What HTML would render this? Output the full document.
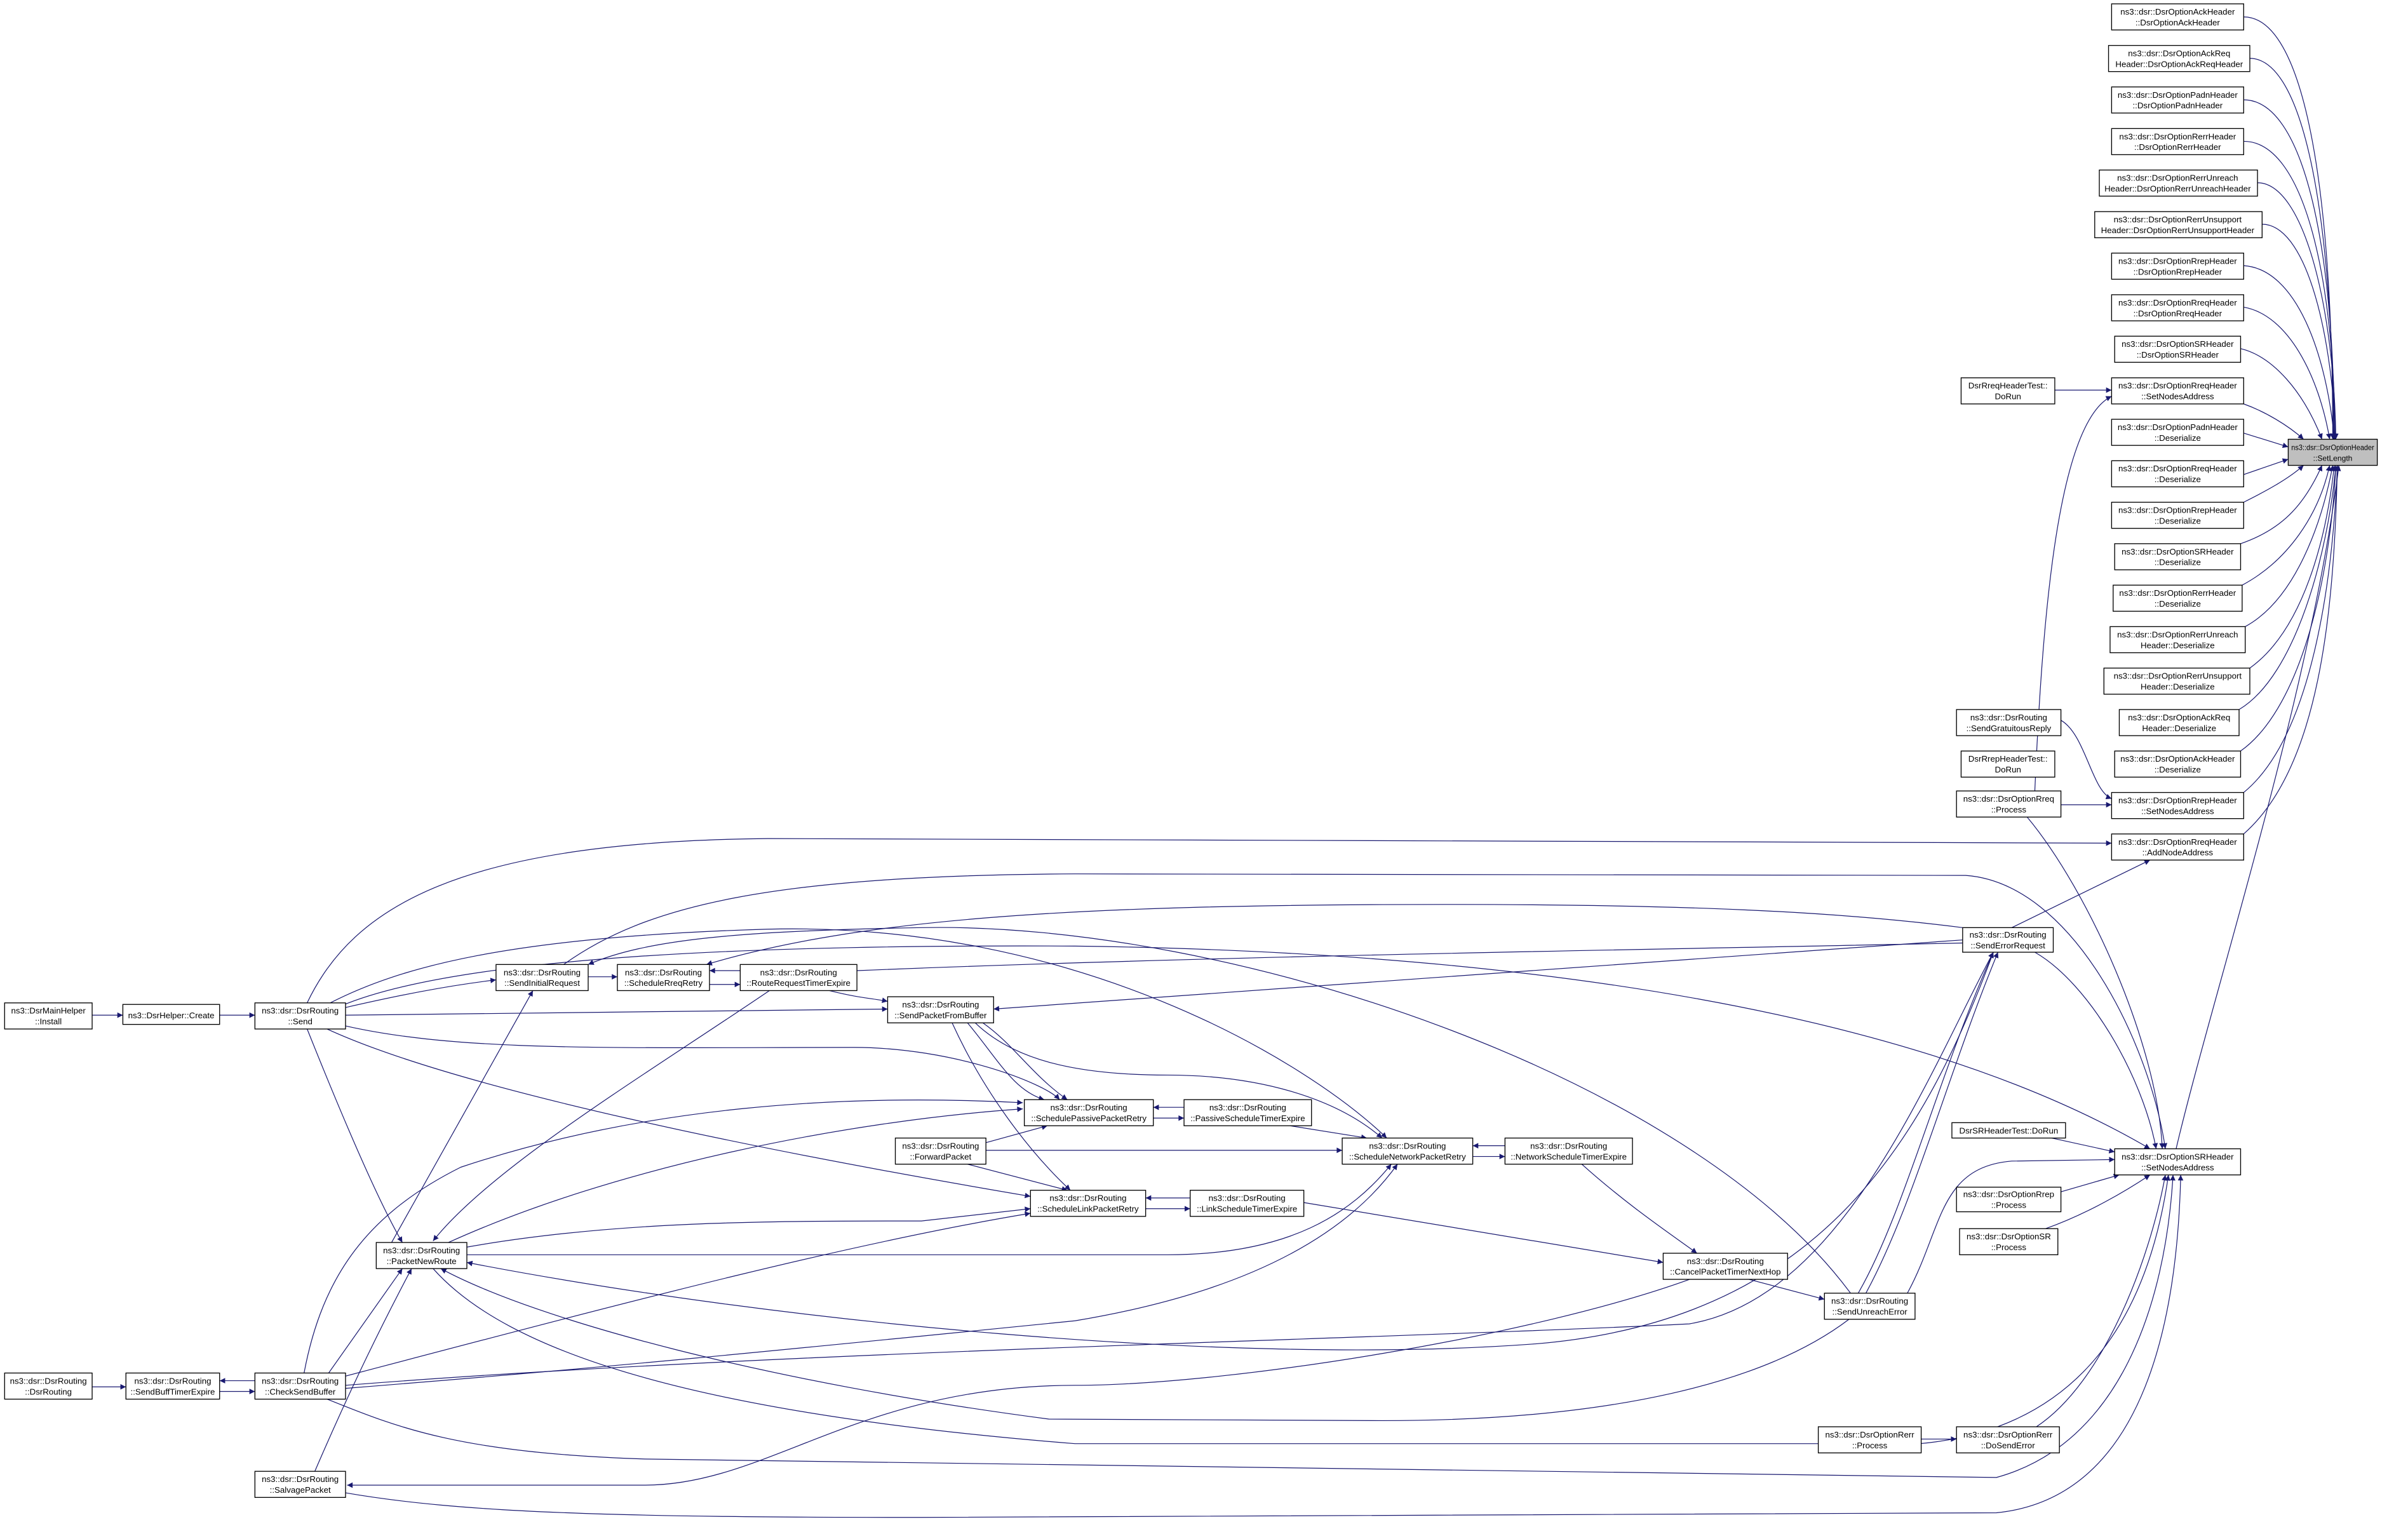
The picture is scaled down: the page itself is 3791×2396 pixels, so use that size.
<!DOCTYPE html>
<html><head><meta charset="utf-8"><style>
html,body{margin:0;padding:0;background:#fff;}
svg{display:block;}
text{font-family:"Liberation Sans",Arial,sans-serif;font-size:5.5px;fill:#000;}
.n rect{fill:#fff;stroke:#000;stroke-width:0.55;}
.e path{fill:none;stroke:#191970;stroke-width:0.5;marker-end:url(#a);}
.e path.na{marker-end:none;}
</style></head><body>
<svg width="3791" height="2396" viewBox="0 0 1568 991" preserveAspectRatio="none" xmlns="http://www.w3.org/2000/svg">
<defs><marker id="a" viewBox="0 0 10 10" refX="10" refY="5" markerWidth="4.5" markerHeight="3.6" markerUnits="userSpaceOnUse" orient="auto"><path d="M0,0L10,5L0,10z" fill="#191970"/></marker></defs>
<rect width="1568" height="991" fill="#fff"/>
<g class="e">
<path d="M1461,11 C1500,11 1519,120 1519,286"/>
<path d="M1465,38 C1500,38 1519,140 1519.5,286"/>
<path d="M1461,65 C1500,65 1520,160 1520,286"/>
<path d="M1461,92 C1500,92 1520,180 1520.5,286"/>
<path d="M1470,119 C1500,119 1520,200 1521,286"/>
<path d="M1473,146 C1500,146 1518,210 1521,286"/>
<path d="M1461,173 C1495,175 1515,230 1520,286"/>
<path d="M1461,200 C1490,205 1510,245 1517,286"/>
<path d="M1459,227 C1480,232 1500,255 1512,286"/>
<path d="M1461,263 C1475,268 1490,277 1500,286"/>
<path d="M1461,282 L1490,291"/>
<path d="M1461,309 L1490,299"/>
<path d="M1461,327 C1475,320 1490,312 1500,303"/>
<path d="M1459,354 C1485,345 1500,330 1512,303"/>
<path d="M1460,381 C1490,365 1510,335 1517,303"/>
<path d="M1462,408 C1495,390 1512,340 1519,303"/>
<path d="M1465,435 C1500,410 1515,350 1520,303"/>
<path d="M1458,462 C1495,440 1516,360 1521,303"/>
<path d="M1459,489 C1500,460 1518,370 1521,303"/>
<path d="M1461,516 C1505,480 1519,380 1522,303"/>
<path d="M1461,543 C1510,500 1520,400 1522,303"/>
<path d="M1417,748 C1440,650 1505,450 1523,303"/>
<path d="M1338,254 L1375,254"/>
<path d="M1325,515 C1330,400 1340,275 1375,258"/>
<path d="M1342,469 C1358,478 1362,515 1375,520"/>
<path d="M1342,524 L1375,524"/>
<path d="M1320,532 C1360,580 1405,680 1408,748"/>
<path d="M1310,604 L1400,560"/>
<path d="M1325,620 C1360,640 1395,700 1404,748"/>
<path d="M1336,741 L1377,750"/>
<path d="M1342,776 L1380,765"/>
<path d="M1332,800 C1360,790 1385,775 1400,765"/>
<path d="M1326,929 C1370,900 1400,820 1410,765"/>
<path d="M1251,937 L1274,937"/>
<path d="M1242,842 C1265,800 1262,760 1310,756 L1377,755"/>
<path d="M1210,842 C1240,790 1262,700 1298,620"/>
<path d="M1215,842 C1246,785 1268,700 1301,620"/>
<path d="M1135,832 L1188,846"/>
<path d="M1030,758 C1060,785 1090,805 1105,816"/>
<path d="M849,783 L1083,822"/>
<path d="M1278,612 L647,657"/>
<path d="M1278,604 C1200,594 1100,588 900,589 C700,590 560,598 460,628"/>
<path class="na" d="M558,632 C800,622 1100,618 1278,614"/>
<path d="M1205,842 C1100,700 800,600 600,604 C480,606 420,612 383,628"/>
<path d="M60,661 L80,661"/>
<path d="M143,661 L166,661"/>
<path d="M225,656 C260,648 290,642 323,638"/>
<path d="M225,661 L578,657"/>
<path d="M200,670 C220,720 245,780 262,809"/>
<path d="M383,636 L402,636"/>
<path d="M462,641 L482,641"/>
<path d="M482,632 L462,632"/>
<path d="M540,645 C560,650 568,650 578,652"/>
<path d="M200,653 C230,590 300,548 500,546 L1375,549"/>
<path d="M215,653 C260,630 330,610 500,605 C700,600 850,690 903,741"/>
<path d="M222,655 C300,622 500,615 700,616 C1000,620 1250,660 1400,748"/>
<path d="M367,628 C420,590 500,570 700,569 L1280,570 C1350,575 1400,680 1410,748"/>
<path d="M225,668 C300,685 400,682 556,682 C620,682 680,705 690,716"/>
<path d="M213,670 C300,710 500,750 671,779"/>
<path d="M630,666 C650,690 660,710 680,716"/>
<path d="M640,666 C660,680 672,700 695,716"/>
<path d="M635,666 C660,690 700,700 760,700 C820,700 870,715 900,741"/>
<path d="M620,666 C640,710 670,750 697,775"/>
<path d="M642,744 L682,733"/>
<path d="M642,749 L874,749"/>
<path d="M630,758 L695,775"/>
<path d="M771,721 L751,721"/>
<path d="M751,728 L771,728"/>
<path d="M840,733 L890,741"/>
<path d="M775,780 L746,780"/>
<path d="M746,787 L775,787"/>
<path d="M980,746 L959,746"/>
<path d="M959,753 L980,753"/>
<path d="M255,809 L347,645"/>
<path d="M501,645 C420,700 320,760 282,808"/>
<path d="M292,809 C400,760 550,730 666,722"/>
<path d="M304,812 C400,795 500,795 600,795 L671,787"/>
<path d="M304,817 L760,817 C840,817 880,790 906,758"/>
<path d="M214,894 L262,826"/>
<path d="M205,958 C230,900 250,860 268,826"/>
<path d="M282,826 C330,880 450,920 700,940 L1250,940 C1360,930 1400,850 1412,765"/>
<path d="M1204,859 C1150,900 1050,925 900,925 L683,924 C500,900 350,860 287,826"/>
<path d="M1298,620 C1250,750 1180,860 1000,875 C800,890 500,860 304,822"/>
<path d="M225,896 C400,850 550,810 671,790"/>
<path d="M198,894 C210,830 240,790 300,760 C420,720 550,712 666,718"/>
<path d="M225,904 C400,890 500,880 700,860 C820,840 880,800 910,758"/>
<path d="M225,902 C500,880 900,872 1100,862 C1200,845 1255,700 1298,620"/>
<path d="M213,911 C260,930 300,946 420,950 L1300,962 C1380,940 1410,850 1415,765"/>
<path d="M225,972 C300,985 400,988 600,988 L1300,985 C1400,975 1418,850 1420,765"/>
<path d="M1103,832 C1000,870 800,902 700,902 C560,902 500,967 420,967 L226,967"/>
<path d="M166,899 L143,899"/>
<path d="M143,906 L166,906"/>
<path d="M60,903 L82,903"/>
</g>
<g class="n" text-anchor="middle">
<rect x="1490" y="286" width="58" height="17" style="fill:#bfbfbf"/><text x="1519" y="293" style="font-size:5px" textLength="54" lengthAdjust="spacingAndGlyphs">ns3::dsr::DsrOptionHeader</text><text x="1519" y="300" style="font-size:5px">::SetLength</text>
<rect x="1375" y="2.5" width="86" height="17"/><text x="1418" y="9.5">ns3::dsr::DsrOptionAckHeader</text><text x="1418" y="16.5">::DsrOptionAckHeader</text>
<rect x="1373" y="29.6" width="92" height="17"/><text x="1419" y="36.6">ns3::dsr::DsrOptionAckReq</text><text x="1419" y="43.6">Header::DsrOptionAckReqHeader</text>
<rect x="1375" y="56.6" width="86" height="17"/><text x="1418" y="63.6">ns3::dsr::DsrOptionPadnHeader</text><text x="1418" y="70.6">::DsrOptionPadnHeader</text>
<rect x="1375" y="83.7" width="86" height="17"/><text x="1418" y="90.7">ns3::dsr::DsrOptionRerrHeader</text><text x="1418" y="97.7">::DsrOptionRerrHeader</text>
<rect x="1367" y="110.7" width="103" height="17"/><text x="1418" y="117.7">ns3::dsr::DsrOptionRerrUnreach</text><text x="1418" y="124.7">Header::DsrOptionRerrUnreachHeader</text>
<rect x="1364" y="137.8" width="109" height="17"/><text x="1418" y="144.8">ns3::dsr::DsrOptionRerrUnsupport</text><text x="1418" y="151.8">Header::DsrOptionRerrUnsupportHeader</text>
<rect x="1375" y="164.8" width="86" height="17"/><text x="1418" y="171.8">ns3::dsr::DsrOptionRrepHeader</text><text x="1418" y="178.8">::DsrOptionRrepHeader</text>
<rect x="1375" y="191.9" width="86" height="17"/><text x="1418" y="198.9">ns3::dsr::DsrOptionRreqHeader</text><text x="1418" y="205.9">::DsrOptionRreqHeader</text>
<rect x="1377" y="218.9" width="82" height="17"/><text x="1418" y="225.9">ns3::dsr::DsrOptionSRHeader</text><text x="1418" y="232.9">::DsrOptionSRHeader</text>
<rect x="1375" y="246" width="86" height="17"/><text x="1418" y="253">ns3::dsr::DsrOptionRreqHeader</text><text x="1418" y="260">::SetNodesAddress</text>
<rect x="1375" y="273" width="86" height="17"/><text x="1418" y="280">ns3::dsr::DsrOptionPadnHeader</text><text x="1418" y="287">::Deserialize</text>
<rect x="1375" y="300" width="86" height="17"/><text x="1418" y="307">ns3::dsr::DsrOptionRreqHeader</text><text x="1418" y="314">::Deserialize</text>
<rect x="1375" y="327" width="86" height="17"/><text x="1418" y="334">ns3::dsr::DsrOptionRrepHeader</text><text x="1418" y="341">::Deserialize</text>
<rect x="1377" y="354" width="82" height="17"/><text x="1418" y="361">ns3::dsr::DsrOptionSRHeader</text><text x="1418" y="368">::Deserialize</text>
<rect x="1376" y="381" width="84" height="17"/><text x="1418" y="388">ns3::dsr::DsrOptionRerrHeader</text><text x="1418" y="395">::Deserialize</text>
<rect x="1374" y="408" width="88" height="17"/><text x="1418" y="415">ns3::dsr::DsrOptionRerrUnreach</text><text x="1418" y="422">Header::Deserialize</text>
<rect x="1370" y="435" width="95" height="17"/><text x="1418" y="442">ns3::dsr::DsrOptionRerrUnsupport</text><text x="1418" y="449">Header::Deserialize</text>
<rect x="1380" y="462" width="78" height="17"/><text x="1419" y="469">ns3::dsr::DsrOptionAckReq</text><text x="1419" y="476">Header::Deserialize</text>
<rect x="1377" y="489" width="82" height="17"/><text x="1418" y="496">ns3::dsr::DsrOptionAckHeader</text><text x="1418" y="503">::Deserialize</text>
<rect x="1375" y="516" width="86" height="17"/><text x="1418" y="523">ns3::dsr::DsrOptionRrepHeader</text><text x="1418" y="530">::SetNodesAddress</text>
<rect x="1375" y="543" width="86" height="17"/><text x="1418" y="550">ns3::dsr::DsrOptionRreqHeader</text><text x="1418" y="557">::AddNodeAddress</text>
<rect x="1377" y="748" width="82" height="17"/><text x="1418" y="755">ns3::dsr::DsrOptionSRHeader</text><text x="1418" y="762">::SetNodesAddress</text>
<rect x="1277" y="246" width="61" height="17"/><text x="1307.5" y="253">DsrRreqHeaderTest::</text><text x="1307.5" y="260">DoRun</text>
<rect x="1274" y="462" width="68" height="17"/><text x="1308" y="469">ns3::dsr::DsrRouting</text><text x="1308" y="476">::SendGratuitousReply</text>
<rect x="1277" y="489" width="61" height="17"/><text x="1307.5" y="496">DsrRrepHeaderTest::</text><text x="1307.5" y="503">DoRun</text>
<rect x="1274" y="515" width="68" height="17"/><text x="1308" y="522">ns3::dsr::DsrOptionRreq</text><text x="1308" y="529">::Process</text>
<rect x="1278" y="604" width="59" height="16"/><text x="1307.5" y="610.5">ns3::dsr::DsrRouting</text><text x="1307.5" y="617.5">::SendErrorRequest</text>
<rect x="1271" y="731" width="74" height="10"/><text x="1308" y="738">DsrSRHeaderTest::DoRun</text>
<rect x="1274" y="773" width="68" height="16"/><text x="1308" y="779.5">ns3::dsr::DsrOptionRrep</text><text x="1308" y="786.5">::Process</text>
<rect x="1276" y="800" width="64" height="17"/><text x="1308" y="807">ns3::dsr::DsrOptionSR</text><text x="1308" y="814">::Process</text>
<rect x="1274" y="929" width="67" height="17"/><text x="1307.5" y="936">ns3::dsr::DsrOptionRerr</text><text x="1307.5" y="943">::DoSendError</text>
<rect x="1184" y="929" width="67" height="17"/><text x="1217.5" y="936">ns3::dsr::DsrOptionRerr</text><text x="1217.5" y="943">::Process</text>
<rect x="1188" y="842" width="59" height="17"/><text x="1217.5" y="849">ns3::dsr::DsrRouting</text><text x="1217.5" y="856">::SendUnreachError</text>
<rect x="1083" y="816" width="81" height="17"/><text x="1123.5" y="823">ns3::dsr::DsrRouting</text><text x="1123.5" y="830">::CancelPacketTimerNextHop</text>
<rect x="980" y="741" width="83" height="17"/><text x="1021.5" y="748">ns3::dsr::DsrRouting</text><text x="1021.5" y="755">::NetworkScheduleTimerExpire</text>
<rect x="874" y="741" width="85" height="17"/><text x="916.5" y="748">ns3::dsr::DsrRouting</text><text x="916.5" y="755">::ScheduleNetworkPacketRetry</text>
<rect x="771" y="716" width="83" height="17"/><text x="812.5" y="723">ns3::dsr::DsrRouting</text><text x="812.5" y="730">::PassiveScheduleTimerExpire</text>
<rect x="667" y="716" width="84" height="17"/><text x="709" y="723">ns3::dsr::DsrRouting</text><text x="709" y="730">::SchedulePassivePacketRetry</text>
<rect x="775" y="775" width="74" height="17"/><text x="812" y="782">ns3::dsr::DsrRouting</text><text x="812" y="789">::LinkScheduleTimerExpire</text>
<rect x="671" y="775" width="75" height="17"/><text x="708.5" y="782">ns3::dsr::DsrRouting</text><text x="708.5" y="789">::ScheduleLinkPacketRetry</text>
<rect x="583" y="741" width="59" height="17"/><text x="612.5" y="748">ns3::dsr::DsrRouting</text><text x="612.5" y="755">::ForwardPacket</text>
<rect x="578" y="649" width="69" height="17"/><text x="612.5" y="656">ns3::dsr::DsrRouting</text><text x="612.5" y="663">::SendPacketFromBuffer</text>
<rect x="482" y="628" width="76" height="17"/><text x="520" y="635">ns3::dsr::DsrRouting</text><text x="520" y="642">::RouteRequestTimerExpire</text>
<rect x="402" y="628" width="60" height="17"/><text x="432" y="635">ns3::dsr::DsrRouting</text><text x="432" y="642">::ScheduleRreqRetry</text>
<rect x="323" y="628" width="60" height="17"/><text x="353" y="635">ns3::dsr::DsrRouting</text><text x="353" y="642">::SendInitialRequest</text>
<rect x="166" y="653" width="59" height="17"/><text x="195.5" y="660">ns3::dsr::DsrRouting</text><text x="195.5" y="667">::Send</text>
<rect x="80" y="654" width="63" height="13"/><text x="111.5" y="663">ns3::DsrHelper::Create</text>
<rect x="3" y="653" width="57" height="17"/><text x="31.5" y="660">ns3::DsrMainHelper</text><text x="31.5" y="667">::Install</text>
<rect x="245" y="809" width="59" height="17"/><text x="274.5" y="816">ns3::dsr::DsrRouting</text><text x="274.5" y="823">::PacketNewRoute</text>
<rect x="166" y="894" width="59" height="17"/><text x="195.5" y="901">ns3::dsr::DsrRouting</text><text x="195.5" y="908">::CheckSendBuffer</text>
<rect x="82" y="894" width="61" height="17"/><text x="112.5" y="901">ns3::dsr::DsrRouting</text><text x="112.5" y="908">::SendBuffTimerExpire</text>
<rect x="3" y="894" width="57" height="17"/><text x="31.5" y="901">ns3::dsr::DsrRouting</text><text x="31.5" y="908">::DsrRouting</text>
<rect x="166" y="958" width="59" height="17"/><text x="195.5" y="965">ns3::dsr::DsrRouting</text><text x="195.5" y="972">::SalvagePacket</text>
</g>
</svg>
</body></html>
